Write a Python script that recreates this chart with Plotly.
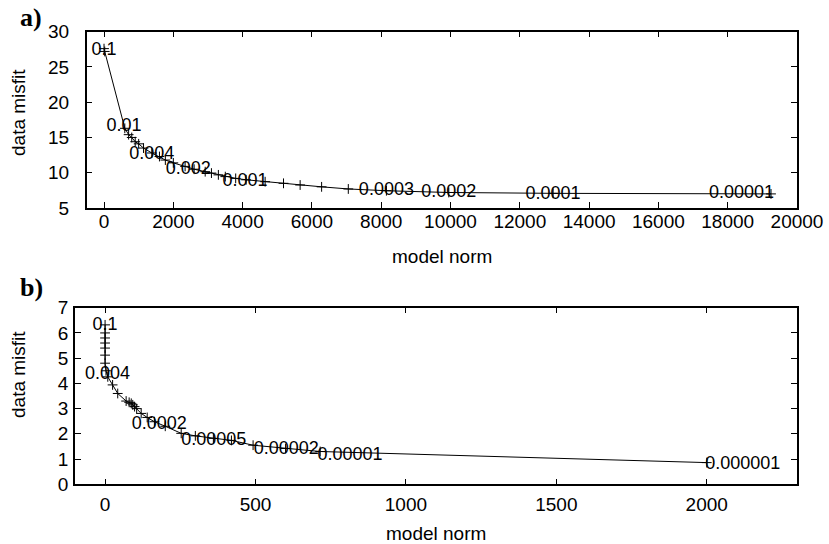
import plotly.graph_objects as go

# ---- panel a) data ----
a_norm = [0, 20, 600, 710, 800, 900, 1000, 1140, 1380, 1600, 1770, 2000, 2340, 2600,
          2920, 3100, 3300, 3500, 3800, 4100, 4650, 5180, 5660, 6280, 7050, 8150,
          9950, 12960, 19250]
a_misfit = [27.6, 27.2, 16.3, 15.4, 15.0, 14.4, 14.1, 13.5, 12.8, 12.3, 11.8, 11.4, 10.9,
            10.5, 10.15, 9.95, 9.7, 9.45, 9.2, 9.0, 8.73, 8.5, 8.26, 8.0, 7.7, 7.45,
            7.2, 7.08, 7.0]
a_lab_text = ["0.1", "0.01", "0.004", "0.002", "0.001", "0.0003", "0.0002", "0.0001", "0.00001"]
a_lab_x = [0, 576, 1378, 2430, 4070, 8150, 9950, 12960, 18400]
a_lab_y = [27.4, 16.5, 12.6, 10.4, 8.8, 7.45, 7.17, 6.94, 7.08]
a_xticks = [0, 2000, 4000, 6000, 8000, 10000, 12000, 14000, 16000, 18000, 20000]
a_xticktext = ["0", "2000", "4000", "6000", "8000", "10000", "12000", "14000", "16000",
               "18000", "20000"]
a_yticks = [5, 10, 15, 20, 25, 30]

# ---- panel b) data ----
b_norm = [0, 0, 0, 0, 0, 0, 0, 3, 9, 25, 42, 70, 80, 87, 92, 98, 105, 120, 140, 164,
          200, 253, 300, 360, 420, 492, 600, 715, 2000]
b_misfit = [6.32, 6.0, 5.8, 5.6, 5.4, 5.12, 4.8, 4.5, 4.26, 3.94, 3.6, 3.3, 3.25, 3.21,
            3.15, 3.08, 3.0, 2.81, 2.65, 2.48, 2.3, 2.02, 1.92, 1.82, 1.74, 1.55, 1.42,
            1.30, 0.86]
b_lab_text = ["0.1", "0.004", "0.0002", "0.00005", "0.00002", "0.00001", "0.000001"]
b_lab_x = [0, 8, 180, 361, 602, 814, 2120]
b_lab_y = [6.29, 4.36, 2.35, 1.73, 1.36, 1.16, 0.77]
b_xticks = [0, 500, 1000, 1500, 2000]
b_xticktext = ["0", "500", "1000", "1500", "2000"]
b_yticks = [0, 1, 2, 3, 4, 5, 6, 7]

FONT = "Liberation Sans, Arial, sans-serif"
W, H = 829, 544

fig = go.Figure()
line_style = dict(color="black", width=1)
marker_style = dict(symbol="cross-thin", size=7, line=dict(color="black", width=1), color="black")

fig.add_trace(go.Scatter(x=a_norm, y=a_misfit, mode="lines+markers", line=line_style,
                         marker=marker_style, xaxis="x", yaxis="y", showlegend=False))
fig.add_trace(go.Scatter(x=a_lab_x, y=a_lab_y, mode="text", text=a_lab_text,
                         textposition="middle center",
                         textfont=dict(family=FONT, size=18, color="black"),
                         xaxis="x", yaxis="y", showlegend=False))
fig.add_trace(go.Scatter(x=b_norm, y=b_misfit, mode="lines+markers", line=line_style,
                         marker=marker_style, xaxis="x2", yaxis="y2", showlegend=False))
fig.add_trace(go.Scatter(x=b_lab_x, y=b_lab_y, mode="text", text=b_lab_text,
                         textposition="middle center",
                         textfont=dict(family=FONT, size=18, color="black"),
                         xaxis="x2", yaxis="y2", showlegend=False))

def ax(**kw):
    d = dict(showline=True, linecolor="black", linewidth=1.5, mirror="allticks",
             ticks="inside", ticklen=6, tickwidth=1, tickcolor="black",
             showgrid=False, zeroline=False, automargin=False,
             tickfont=dict(family=FONT, size=19, color="black"))
    d.update(kw)
    return d

xa_dom = [86.7 / W, 797 / W]
ya_dom = [1 - 208 / H, 1 - 31.7 / H]
xb_dom = [75 / W, 797 / W]
yb_dom = [1 - 484.3 / H, 1 - 307.7 / H]

fig.update_layout(
    template="none",
    width=W, height=H, margin=dict(l=0, r=0, t=0, b=0, pad=0),
    paper_bgcolor="white", plot_bgcolor="white",
    xaxis=ax(domain=xa_dom, range=[-500, 20000], tickvals=a_xticks, ticktext=a_xticktext,
             anchor="y", ticklabelstandoff=-5),
    yaxis=ax(domain=ya_dom, range=[5, 30], tickvals=a_yticks, anchor="x",
             ticklabelstandoff=12),
    xaxis2=ax(domain=xb_dom, range=[-100, 2300], tickvals=b_xticks, ticktext=b_xticktext,
              anchor="y2", ticklabelstandoff=2),
    yaxis2=ax(domain=yb_dom, range=[0, 7], tickvals=b_yticks, anchor="x2",
              ticklabelstandoff=1),
)

ann = [
    dict(text="model norm", x=(xa_dom[0] + xa_dom[1]) / 2, y=1 - 256.7 / H),
    dict(text="model norm", x=(xb_dom[0] + xb_dom[1]) / 2, y=1 - 533.3 / H),
    dict(text="data misfit", x=18 / W, y=1 - 113 / H, textangle=-90),
    dict(text="data misfit", x=18 / W, y=1 - 375 / H, textangle=-90),
]
for a in ann:
    fig.add_annotation(xref="paper", yref="paper", showarrow=False,
                       xanchor="center", yanchor="middle",
                       font=dict(family=FONT, size=19, color="black"), **a)

for t, yy in [("a)", 17), ("b)", 287)]:
    fig.add_annotation(text="<b>%s</b>" % t, xref="paper", yref="paper", showarrow=False,
                       x=18 / W, y=1 - yy / H, xanchor="left", yanchor="middle",
                       font=dict(family="Liberation Serif, Times New Roman, serif",
                                 size=26, color="black"))

fig.write_html("out.html")
